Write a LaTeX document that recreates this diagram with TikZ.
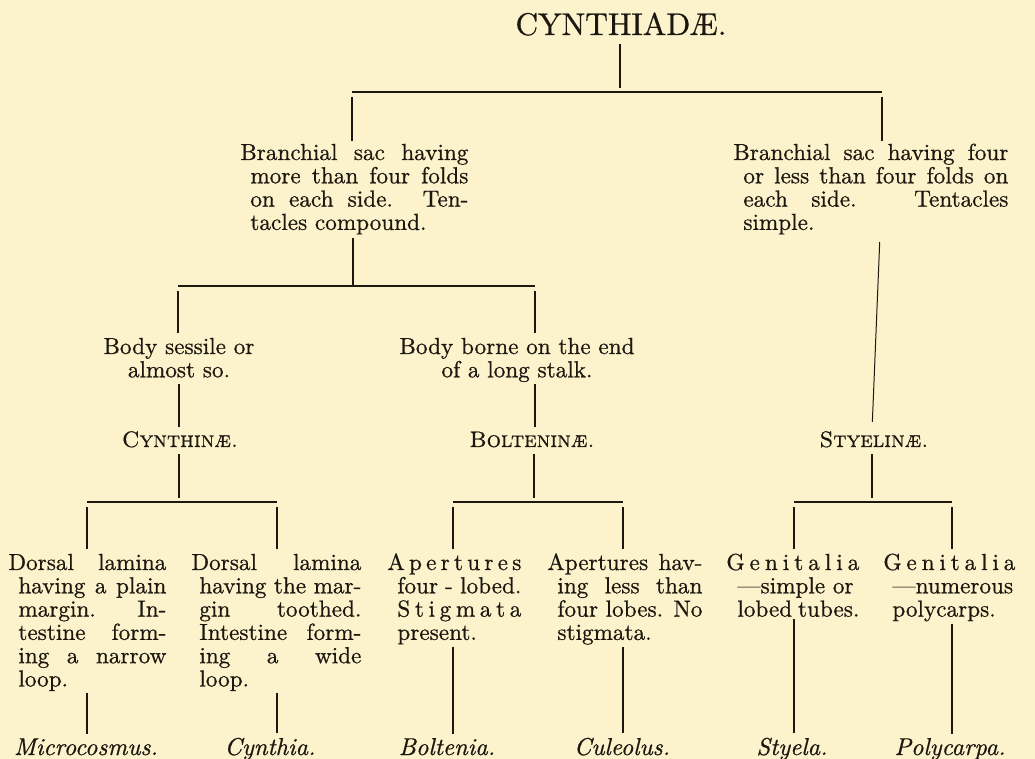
\documentclass[tikz,border=0pt]{standalone}
\usepackage{fontspec}
\setmainfont{lmroman10-regular.otf}[ItalicFont=lmroman10-italic.otf, SmallCapsFont=lmromancaps10-regular.otf, FakeBold=0.7]
\definecolor{bgc}{RGB}{252,243,204}
\definecolor{inkc}{RGB}{28,23,15}
\newcommand\bodyf{\fontsize{11.6}{11.65}\selectfont}
\newcommand\lsp{\nobreak\hfil}
\tolerance=9999
\hbadness=10000
\hfuzz=5pt
\begin{document}
\begin{tikzpicture}[x=0.5pt,y=-0.5pt,
  vl/.style={draw=inkc, line width=0.9pt, shorten <=2pt, shorten >=2pt},
  thinvl/.style={draw=inkc, line width=0.5pt, shorten <=2pt, shorten >=2pt},
  bar/.style={draw=inkc, line width=0.65pt},
  desc/.style={anchor=base west, inner sep=0pt, align=justify, text=inkc, font=\bodyf},
  ctr/.style={anchor=base, inner sep=0pt, align=center, text=inkc, font=\bodyf},
  lab/.style={anchor=base, inner sep=0pt, text=inkc, font=\fontsize{11.2}{12}\selectfont\scshape},
  genus/.style={anchor=base, inner sep=0pt, text=inkc, font=\fontsize{12.2}{13}\selectfont\itshape},
  ttl/.style={anchor=base, inner sep=0pt, text=inkc, font=\fontsize{15.7}{18}\selectfont},
]
\fill[bgc] (0,0) rectangle (1035,759);
\useasboundingbox (0,0) rectangle (1035,759);

% title
\node[ttl] (root) at (621,35) {CYNTHIADÆ.};

% bars
\coordinate (b0l) at (352,92);  \coordinate (b0r) at (882,92);  \coordinate (b0m) at (620,92);
\coordinate (b1l) at (178,286); \coordinate (b1r) at (535,286); \coordinate (b1m) at (353,286);
\coordinate (b2al) at (87,502); \coordinate (b2ar) at (277,502); \coordinate (b2am) at (179,502);
\coordinate (b2bl) at (453,502); \coordinate (b2br) at (623,502); \coordinate (b2bm) at (534,502);
\coordinate (b2cl) at (794,502); \coordinate (b2cr) at (952,502); \coordinate (b2cm) at (872,502);
\coordinate (r3) at (880,0);
\draw[bar] (b0l) -- (b0r);
\draw[bar] (b1l) -- (b1r);
\draw[bar] (b2al) -- (b2ar);
\draw[bar] (b2bl) -- (b2br);
\draw[bar] (b2cl) -- (b2cr);

% level 1
\node[desc, text width=114pt] (T1) at (240,160)
  {\hangindent=5pt\hangafter=1 Branchial sac having\linebreak more than four folds\linebreak on each side. Ten-\linebreak tacles compound.\par};
\node[desc, text width=137.5pt] (T2) at (733,160)
  {\hangindent=5pt\hangafter=1 Branchial sac having four\linebreak or less than four folds on\linebreak each side. Tentacles\linebreak simple.\par};

% level 2
\node[ctr, text width=100pt] (S1) at (179,354) {Body sessile or\\almost so.};
\node[ctr, text width=130pt] (S2) at (517,354) {Body borne on the end\\of a long stalk.};

% subfamilies
\node[lab] (L1) at (180,447) {Cynthinæ.};
\node[lab] (L2) at (532,447) {Bolteninæ.};
\node[lab] (L3) at (874,447) {Styelinæ.};

% level 3
\node[desc, text width=79pt] (D1) at (8,570)
  {\hangindent=5pt\hangafter=1 Dorsal lamina\linebreak having a plain\linebreak margin. In-\linebreak testine form-\linebreak ing a narrow\linebreak loop.\par};
\node[desc, text width=85pt] (D2) at (191,570)
  {\hangindent=4pt\hangafter=1 Dorsal lamina\linebreak having the mar-\linebreak gin toothed.\linebreak Intestine form-\linebreak ing a wide\linebreak loop.\par};
\node[desc, text width=67pt] (A1) at (387,570)
  {\hangindent=5pt\hangafter=1 A\lsp p\lsp e\lsp r\lsp t\lsp u\lsp r\lsp e\lsp s\linebreak four - lobed.\linebreak S\lsp t\lsp i\lsp g\lsp m\lsp a\lsp t\lsp a\linebreak present.\par};
\node[desc, text width=77.5pt] (A2) at (547,570)
  {\hangindent=5pt\hangafter=1 Apertures hav-\linebreak ing less than\linebreak four lobes. No\linebreak stigmata.\par};
\node[desc, text width=66.5pt] (G1) at (726,570)
  {\hangindent=5.5pt\hangafter=1 G\lsp e\lsp n\lsp i\lsp t\lsp a\lsp l\lsp i\lsp a\linebreak ---simple or\newline lobed tubes.\par};
\node[desc, text width=66pt] (G2) at (883,570)
  {\hangindent=4.5pt\hangafter=1 G\lsp e\lsp n\lsp i\lsp t\lsp a\lsp l\lsp i\lsp a\linebreak ---numerous\newline polycarps.\par};

% genera
\node[genus] (g1) at (86,755) {Microcosmus.};
\node[genus] (g2) at (270,755) {Cynthia.};
\node[genus] (g3) at (447,755) {Boltenia.};
\node[genus] (g4) at (622,755) {Culeolus.};
\node[genus] (g5) at (792,755) {Styela.};
\node[genus] (g6) at (950,755) {Polycarpa.};

% connectors
\draw[vl, shorten <=4pt] (b0m |- root.south) -- (b0m);
\draw[vl, shorten >=1.2pt, shorten <=2.5pt] (b0l) -- (b0l |- T1.north);
\draw[vl, shorten >=1.2pt, shorten <=2.5pt] (b0r) -- (b0r |- T2.north);
\draw[vl, shorten <=1.8pt, shorten >=0.5pt] (b1m |- T1.south) -- (b1m);
\draw[vl, shorten <=2.5pt] (b1l) -- (b1l |- S1.north);
\draw[vl, shorten <=2.5pt] (b1r) -- (b1r |- S2.north);
\draw[vl, shorten <=3pt] (S1.south) -- (L1.north -| S1.south);
\draw[vl, shorten <=1pt] (b1r |- S2.south) -- (b1r |- L2.north);
\draw[thinvl, shorten <=3.7pt, shorten >=4.5pt] (T2.south -| r3) -- (L3.north -| b2cm);
\draw[vl, shorten <=3pt] (b2am |- L1.south) -- (b2am);
\draw[vl, shorten <=3pt] (b2bm |- L2.south) -- (b2bm);
\draw[vl, shorten <=3pt] (b2cm |- L3.south) -- (b2cm);
\draw[vl, shorten <=2.5pt] (b2al) -- (b2al |- D1.north);
\draw[vl, shorten <=2.5pt] (b2ar) -- (b2ar |- D2.north);
\draw[vl, shorten <=2.5pt] (b2bl) -- (b2bl |- A1.north);
\draw[vl, shorten <=2.5pt] (b2br) -- (b2br |- A2.north);
\draw[vl, shorten <=2.5pt] (b2cl) -- (b2cl |- G1.north);
\draw[vl, shorten <=2.5pt] (b2cr) -- (b2cr |- G2.north);
\draw[vl, shorten <=1pt] (b2al |- D1.south) -- (b2al |- g1.north);
\draw[vl, shorten <=1pt] (b2ar |- D2.south) -- (b2ar |- g2.north);
\draw[vl, shorten <=1pt] (b2bl |- A1.south) -- (b2bl |- g3.north);
\draw[vl, shorten <=1pt] (b2br |- A2.south) -- (b2br |- g4.north);
\draw[vl, shorten <=1pt] (b2cl |- G1.south) -- (b2cl |- g5.north);
\draw[vl, shorten <=1pt] (b2cr |- G2.south) -- (b2cr |- g6.north);
\end{tikzpicture}
\end{document}
